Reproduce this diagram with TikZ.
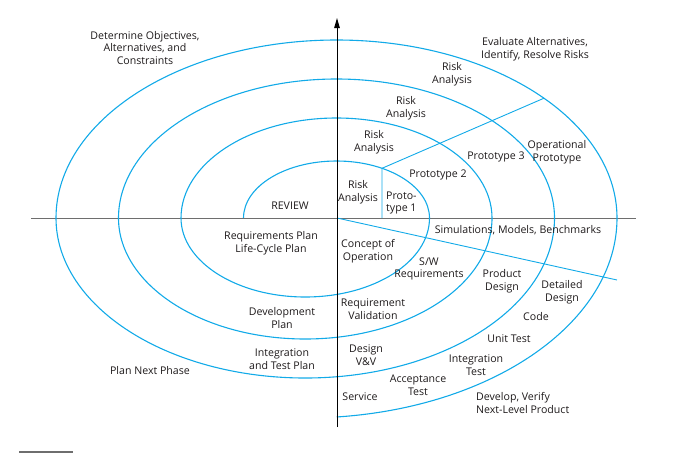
\documentclass[tikz,border=0pt]{standalone}
\usepackage{fontspec}
\setmainfont{Open Sans}
\usetikzlibrary{arrows.meta,calc}
\definecolor{spiral}{RGB}{18,170,232}
\definecolor{ink}{RGB}{30,26,27}
\definecolor{axisgray}{RGB}{110,110,110}
\begin{document}
\begin{tikzpicture}[x=1pt,y=-1pt,
  lbl/.style={font=\fontsize{10.6}{12.5}\selectfont, align=center, inner sep=0pt, text=ink},
  lbll/.style={lbl, align=left},
  sp/.style={draw=spiral, line width=1.1pt},
  axisline/.style={draw=axisgray, line width=1pt}]
\useasboundingbox (0,0) rectangle (692,453);

% centres
\coordinate (o) at (337,218);
\coordinate (ct) at (336.5,218);
\coordinate (cb) at (305.25,218);
\coordinate (hl) at (31,218);
\coordinate (hr) at (636,218);
\coordinate (vb) at (337,427);
\coordinate (vt) at (337,18);

% axes
\draw[axisline] (hl) -- (hr);

% spiral
\draw[sp] (243.5,218)
  arc[start angle=180, end angle=360, x radius=93, y radius=57]
  arc[start angle=0, end angle=180, x radius=124.25, y radius=79]
  arc[start angle=180, end angle=360, x radius=155.5, y radius=100]
  arc[start angle=0, end angle=180, x radius=186.75, y radius=121]
  arc[start angle=180, end angle=360, x radius=218, y radius=139]
  arc[start angle=0, end angle=180, x radius=249.25, y radius=160]
  arc[start angle=180, end angle=360, x radius=280.5, y radius=178]
  arc[start angle=0, end angle=84.2, x radius=311.75, y radius=200];

% prototype lines
\coordinate (p0) at (382,218);
\coordinate (p1) at ($(ct)+(299.3:93 and 57)$);
\coordinate (p2) at ($(ct)+(317.7:280.5 and 178)$);
\draw[spiral, line width=0.9pt] (p0) -- (p1) -- (p2);
\coordinate (d1) at (617,280);
\draw[spiral, line width=0.9pt] (o) -- (d1);

\draw[draw=black, line width=1pt, -{Triangle[length=10pt,width=5.5pt]}] (vb) -- (vt);

% bottom rule
\fill[axisgray] (19,450.5) rectangle (73,453);

% labels
\node[lbl] (n1) at (145,48) {Determine Objectives,\\Alternatives, and\\Constraints};
\node[lbl] (n2) at (535,49) {Evaluate Alternatives,\\Identify, Resolve Risks};
\node[lbl] (r4) at (452,74) {Risk\\Analysis};
\node[lbl] (r3) at (406,108) {Risk\\Analysis};
\node[lbl] (r2) at (374,142) {Risk\\Analysis};
\node[lbl] (r1) at (358,192) {Risk\\Analysis};
\node[lbll, anchor=west] (pt1) at (386,203) {Proto-\\type 1};
\node[lbl] (pt2) at (438,175) {Prototype 2};
\node[lbl] (pt3) at (496,157) {Prototype 3};
\node[lbl] (op) at (557,152) {Operational\\Prototype};
\node[lbl] (rev) at (290,206) {REVIEW};
\node[lbl] (rp) at (271,243) {Requirements Plan\\Life-Cycle Plan};
\node[lbl] (co) at (368,251) {Concept of\\Operation};
\node[lbl] (sim) at (518,230) {Simulations, Models, Benchmarks};
\node[lbl] (sw) at (429,269) {S/W\\Requirements};
\node[lbl] (pd) at (502,281) {Product\\Design};
\node[lbl] (dd) at (562,292) {Detailed\\Design};
\node[lbl] (code) at (536,317) {Code};
\node[lbl] (ut) at (509,339) {Unit Test};
\node[lbl] (it) at (476,365) {Integration\\Test};
\node[lbl] (at) at (418,385) {Acceptance\\Test};
\node[lbl] (svc) at (360,397) {Service};
\node[lbll, anchor=west] (dv) at (476,403) {Develop, Verify\\Next-Level Product};
\node[lbl] (dvv) at (366,355) {Design\\V\&V};
\node[lbl] (rv) at (373,309) {Requirement\\Validation};
\node[lbl] (dp) at (282,318) {Development\\Plan};
\node[lbl] (itp) at (282,359) {Integration\\and Test Plan};
\node[lbl] (pnp) at (150,371) {Plan Next Phase};
\end{tikzpicture}
\end{document}
